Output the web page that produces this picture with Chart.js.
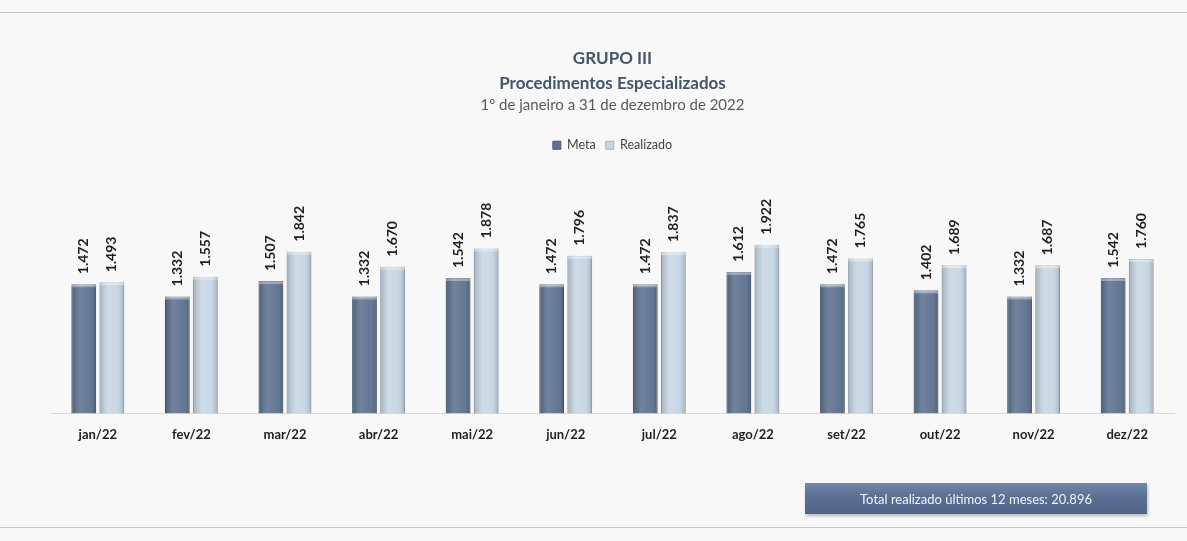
<!DOCTYPE html>
<html>
<head>
<meta charset="utf-8">
<script src="https://cdn.jsdelivr.net/npm/chart.js@4"></script>
<style>
  html, body { margin: 0; padding: 0; background: #f8f8f8; }
  #wrap { position: relative; width: 1187px; height: 541px; overflow: hidden; }
  #chart { position: absolute; left: 0; top: 0; }
  .rule { position: absolute; left: 0; width: 1187px; height: 1px; background: #c8c8c8; }
  #total {
    position: absolute; left: 805px; top: 483px; width: 342px; height: 31px;
    background: linear-gradient(#7088a8, #5a7093 45%, #4e6488);
    color: #f2f4f8; font: 13px Lato, "Open Sans", sans-serif;
    display: flex; align-items: center; justify-content: center;
    box-shadow: 1px 2px 3px rgba(0,0,0,0.25);
  }
</style>
</head>
<body>
<div id="wrap">
  <div class="rule" style="top:12px"></div>
  <div class="rule" style="top:527px"></div>
  <canvas id="chart" width="1187" height="541"></canvas>
  <div id="total">Total realizado últimos 12 meses: 20.896</div>
</div>
<script>
const months = ['jan/22', 'fev/22', 'mar/22', 'abr/22', 'mai/22', 'jun/22',
                'jul/22', 'ago/22', 'set/22', 'out/22', 'nov/22', 'dez/22'];
const meta = [1472, 1332, 1507, 1332, 1542, 1472, 1472, 1612, 1472, 1402, 1332, 1542];
const realizado = [1493, 1557, 1842, 1670, 1878, 1796, 1837, 1922, 1765, 1689, 1687, 1760];

const fmt = v => v.toLocaleString('pt-BR');

// rotated value labels above each bar
const valueLabels = {
    id: 'valueLabels',
    afterDatasetsDraw(chart) {
        const ctx = chart.ctx;
        ctx.save();
        ctx.font = 'bold 14px Lato, "Open Sans", sans-serif';
        ctx.fillStyle = '#1e1e1e';
        ctx.textAlign = 'left';
        ctx.textBaseline = 'middle';
        chart.data.datasets.forEach((ds, i) => {
            chart.getDatasetMeta(i).data.forEach((bar, j) => {
                ctx.save();
                ctx.translate(bar.x, bar.y - 10);
                ctx.rotate(-Math.PI / 2);
                ctx.fillText(fmt(ds.data[j]), 0, 0);
                ctx.restore();
            });
        });
        ctx.restore();
    }
};

// light highlight down the middle of each bar for the cylinder look
const shine = {
    id: 'shine',
    afterDatasetsDraw(chart) {
        const ctx = chart.ctx;
        chart.data.datasets.forEach((ds, i) => {
            chart.getDatasetMeta(i).data.forEach(bar => {
                const w = bar.width, left = bar.x - w / 2;
                const g = ctx.createLinearGradient(left, 0, left + w, 0);
                g.addColorStop(0, 'rgba(0,0,0,0.18)');
                g.addColorStop(0.35, 'rgba(255,255,255,0.12)');
                g.addColorStop(0.7, 'rgba(255,255,255,0.05)');
                g.addColorStop(1, 'rgba(0,0,0,0.2)');
                ctx.fillStyle = g;
                ctx.fillRect(left, bar.y, w, bar.base - bar.y);
                // pale rim on top
                ctx.fillStyle = 'rgba(255,255,255,0.35)';
                ctx.fillRect(left, bar.y, w, 3);
            });
        });
    }
};

new Chart(document.getElementById('chart'), {
    type: 'bar',
    data: {
        labels: months,
        datasets: [{
            label: 'Meta',
            data: meta,
            backgroundColor: '#5d7190',
            borderColor: '#4a5c78',
            borderWidth: 1,
            barPercentage: 0.88,
            categoryPercentage: 0.6
        }, {
            label: 'Realizado',
            data: realizado,
            backgroundColor: '#c6d6e4',
            borderColor: '#9fb2c4',
            borderWidth: 1,
            barPercentage: 0.88,
            categoryPercentage: 0.6
        }]
    },
    options: {
        responsive: false,
        animation: false,
        layout: { padding: { left: 51, right: 13, top: 46, bottom: 92 } },
        scales: {
            x: {
                grid: { display: false },
                border: { color: '#d9d9d9' },
                ticks: { color: '#1e1e1e', font: { family: 'Lato', size: 13, weight: 'bold' }, padding: 6 }
            },
            y: { display: false, min: 0, max: 2870 }
        },
        plugins: {
            title: {
                display: true,
                text: ['GRUPO III', 'Procedimentos Especializados'],
                color: '#44546a',
                font: { family: 'Lato', size: 17, weight: 'bold', lineHeight: 1.47 },
                padding: { top: 0, bottom: 0 }
            },
            subtitle: {
                display: true,
                text: '1º de janeiro a 31 de dezembro de 2022',
                color: '#595959',
                font: { family: 'Lato', size: 15 },
                padding: { top: 0, bottom: 15 }
            },
            legend: {
                labels: {
                    boxWidth: 8, boxHeight: 8, color: '#444',
                    font: { family: 'Lato', size: 12.5 }
                }
            },
            tooltip: { enabled: false }
        }
    },
    plugins: [shine, valueLabels]
});
</script>
</body>
</html>
